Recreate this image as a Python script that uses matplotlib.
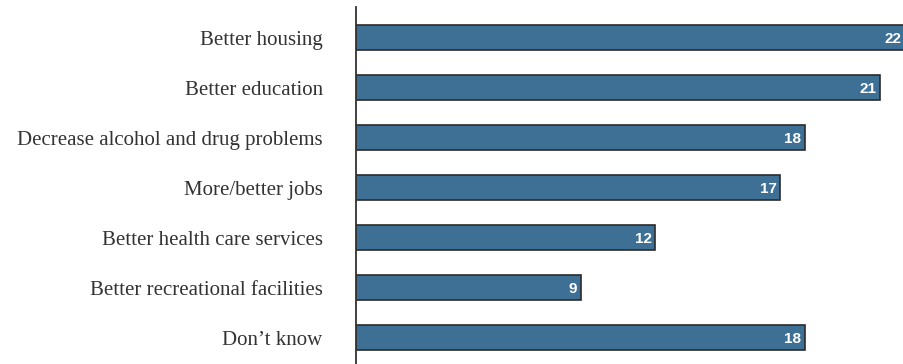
import matplotlib.pyplot as plt

categories = ['Better housing', 'Better education', 'Decrease alcohol and drug problems',
              'More/better jobs', 'Better health care services',
              'Better recreational facilities', 'Don\u2019t know']
values = [22, 21, 18, 17, 12, 9, 18]

bar_color = '#3e7095'
edge_color = '#2b2b2b'

fig = plt.figure(figsize=(9.04, 3.64), dpi=100)
ax = fig.add_axes([356 / 904, 0, 1 - 356 / 904, 1 - 7 / 364])

y = range(len(categories))
ax.barh(y, values, height=0.5, color=bar_color, edgecolor=edge_color, linewidth=1.2)

for yi, v in zip(y, values):
    ax.text(v - 0.15, yi + 0.03, str(v), ha='right', va='center', color='white',
            fontsize=11, fontweight='bold',
            family=['DejaVu Sans Condensed', 'Liberation Sans Narrow', 'Liberation Sans'])

ax.set_xlim(0, 21.96)
ax.set_ylim(6.53, -0.62)

ax.set_yticks(list(y))
ax.set_yticklabels(categories, family='Liberation Serif', fontsize=15, color='#333333')
ax.tick_params(axis='y', length=0, pad=24)
ax.set_xticks([])

for side in ['top', 'right', 'bottom']:
    ax.spines[side].set_visible(False)
ax.spines['left'].set_color('#333333')
ax.spines['left'].set_linewidth(1.3)

fig.savefig('out.png', dpi=100)
